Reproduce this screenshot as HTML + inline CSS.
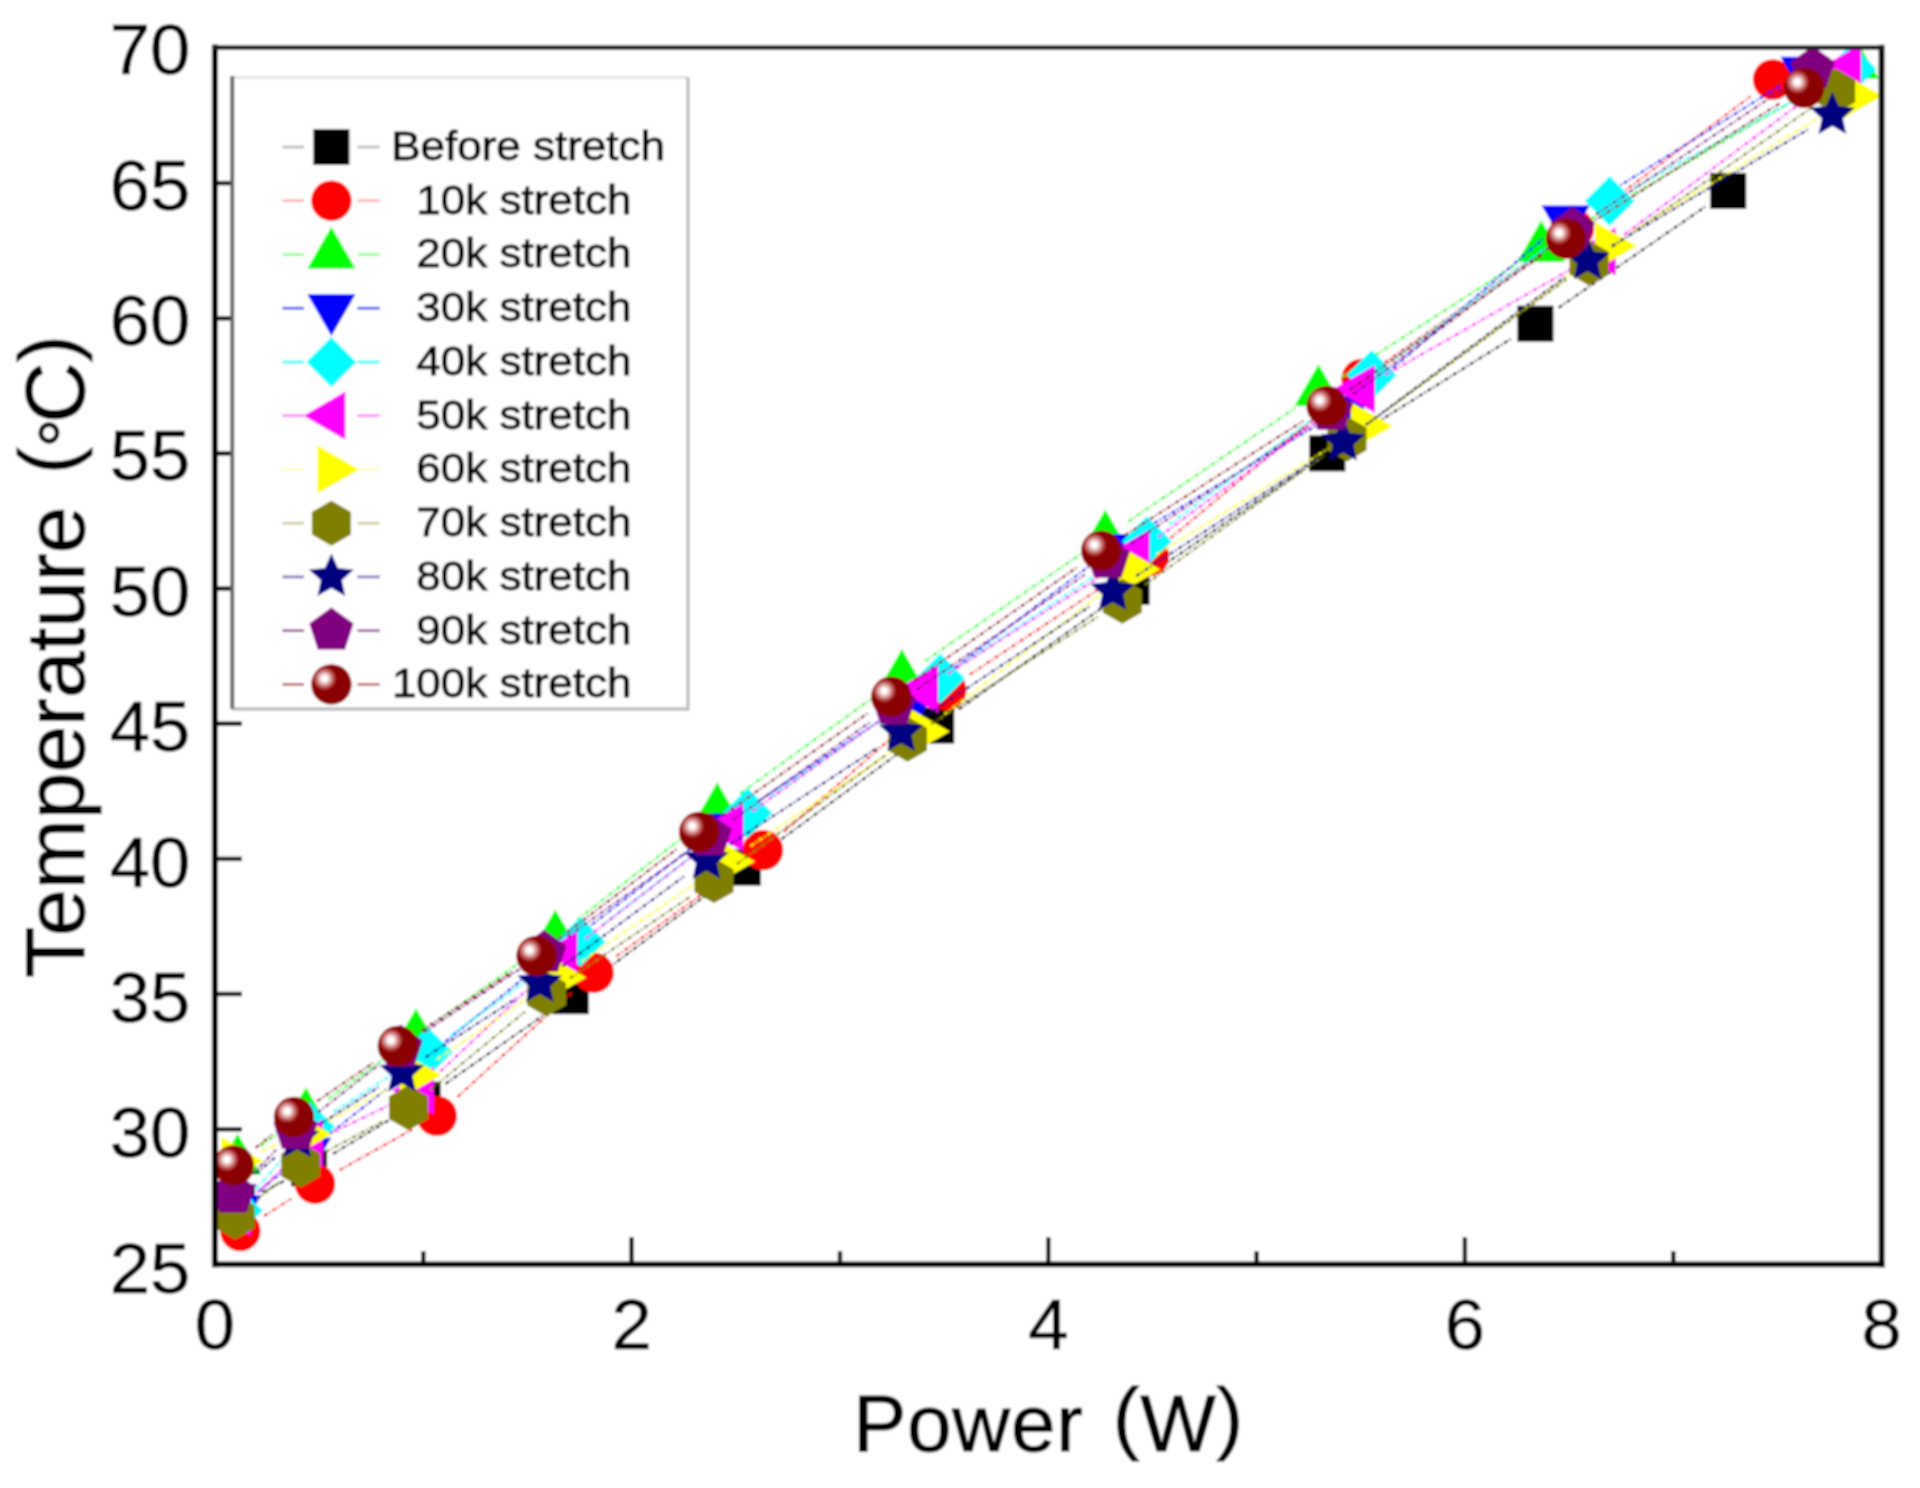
<!DOCTYPE html>
<html lang="en"><head><meta charset="utf-8"><title>Temperature vs Power</title>
<style>html,body{margin:0;padding:0;background:#fff;}svg{display:block;}text{font-family:"Liberation Sans",sans-serif;fill:#000;}</style></head><body>
<svg width="1920" height="1488" viewBox="0 0 1920 1488">
<defs>
<radialGradient id="sph" cx="0.33" cy="0.355" r="0.30" fx="0.33" fy="0.355"><stop offset="0" stop-color="#ffffff"/><stop offset="0.2" stop-color="#ffffff"/><stop offset="0.45" stop-color="#e6b4b4"/><stop offset="0.75" stop-color="#b85050"/><stop offset="1" stop-color="#8b0000"/></radialGradient>
<clipPath id="plot"><rect x="215" y="48" width="1666.6" height="1216.3"/></clipPath>
<filter id="soft" x="0" y="0" width="1920" height="1488" filterUnits="userSpaceOnUse"><feGaussianBlur stdDeviation="0.8"/></filter>
</defs>
<g filter="url(#soft)">
<rect x="0" y="0" width="1920" height="1488" fill="#ffffff"/>
<g stroke="#000" stroke-width="4.4"><line x1="215" y1="1129.2" x2="242" y2="1129.2"/><line x1="215" y1="994" x2="242" y2="994"/><line x1="215" y1="858.9" x2="242" y2="858.9"/><line x1="215" y1="723.7" x2="242" y2="723.7"/><line x1="215" y1="588.6" x2="242" y2="588.6"/><line x1="215" y1="453.4" x2="242" y2="453.4"/><line x1="215" y1="318.3" x2="242" y2="318.3"/><line x1="215" y1="183.1" x2="242" y2="183.1"/><line x1="423.3" y1="1264.3" x2="423.3" y2="1251.3"/><line x1="631.6" y1="1264.3" x2="631.6" y2="1237.3"/><line x1="840" y1="1264.3" x2="840" y2="1251.3"/><line x1="1048.3" y1="1264.3" x2="1048.3" y2="1237.3"/><line x1="1256.6" y1="1264.3" x2="1256.6" y2="1251.3"/><line x1="1464.9" y1="1264.3" x2="1464.9" y2="1237.3"/><line x1="1673.3" y1="1264.3" x2="1673.3" y2="1251.3"/></g>
<g clip-path="url(#plot)">
<g stroke="#000000" stroke-width="2.3" stroke-opacity="0.95" stroke-dasharray="4.5 2 1.5 2" fill="none"><line x1="262" y1="1192.3" x2="284.1" y2="1181"/><line x1="333.1" y1="1153.8" x2="398.6" y2="1114.3"/><line x1="445.5" y1="1083.8" x2="547.8" y2="1012.2"/><line x1="593.1" y1="979.4" x2="720.4" y2="884.4"/><line x1="765.4" y1="851" x2="913.6" y2="742.2"/><line x1="959" y1="709.4" x2="1108.7" y2="603.1"/><line x1="1154.6" y1="571.1" x2="1304.2" y2="469.2"/><line x1="1351.1" y1="438.6" x2="1511.6" y2="338.5"/><line x1="1558.5" y1="307.8" x2="1705.1" y2="206.8"/></g>
<g><rect x="219" y="1187" width="36" height="36" fill="#000000"/><rect x="291.1" y="1150.3" width="36" height="36" fill="#000000"/><rect x="404.6" y="1081.8" width="36" height="36" fill="#000000"/><rect x="552.7" y="978.2" width="36" height="36" fill="#000000"/><rect x="724.8" y="849.6" width="36" height="36" fill="#000000"/><rect x="918.2" y="707.6" width="36" height="36" fill="#000000"/><rect x="1113.5" y="568.9" width="36" height="36" fill="#000000"/><rect x="1309.3" y="435.4" width="36" height="36" fill="#000000"/><rect x="1517.4" y="305.7" width="36" height="36" fill="#000000"/><rect x="1710.2" y="172.9" width="36" height="36" fill="#000000"/></g>
<g stroke="#ff0000" stroke-width="2.3" stroke-opacity="0.95" stroke-dasharray="4.5 2 1.5 2" fill="none"><line x1="264" y1="1216" x2="291.3" y2="1198.7"/><line x1="339.5" y1="1170.1" x2="412.3" y2="1129.5"/><line x1="457.5" y1="1097" x2="572.9" y2="991.6"/><line x1="616.3" y1="956.3" x2="740.3" y2="866.5"/><line x1="784.1" y1="831.7" x2="925.2" y2="708.4"/><line x1="969.7" y1="674.6" x2="1125.6" y2="571.4"/><line x1="1170.5" y1="538.1" x2="1340.1" y2="396.9"/><line x1="1384.5" y1="362.8" x2="1551.1" y2="245.2"/><line x1="1596.4" y1="212.2" x2="1750.6" y2="96.3"/></g>
<g><circle cx="240.3" cy="1231" r="20.2" fill="#ff0000"/><circle cx="315" cy="1183.7" r="20.2" fill="#ff0000"/><circle cx="436.8" cy="1115.9" r="20.2" fill="#ff0000"/><circle cx="593.6" cy="972.7" r="20.2" fill="#ff0000"/><circle cx="763" cy="850.1" r="20.2" fill="#ff0000"/><circle cx="946.3" cy="690" r="20.2" fill="#ff0000"/><circle cx="1149" cy="556" r="20.2" fill="#ff0000"/><circle cx="1361.6" cy="379" r="20.2" fill="#ff0000"/><circle cx="1574" cy="229" r="20.2" fill="#ff0000"/><circle cx="1773" cy="79.5" r="20.2" fill="#ff0000"/></g>
<g stroke="#00ff00" stroke-width="2.3" stroke-opacity="0.95" stroke-dasharray="4.5 2 1.5 2" fill="none"><line x1="260.8" y1="1145.5" x2="282.7" y2="1130.7"/><line x1="328.6" y1="1098.7" x2="393.3" y2="1052.3"/><line x1="438.8" y1="1019.8" x2="532.5" y2="953.4"/><line x1="577.3" y1="919.9" x2="695.3" y2="827.3"/><line x1="740" y1="793.6" x2="879.2" y2="693.1"/><line x1="925" y1="660.9" x2="1082.2" y2="553.1"/><line x1="1128.4" y1="521.5" x2="1295.4" y2="407.8"/><line x1="1342" y1="376.8" x2="1517.7" y2="263.2"/><line x1="1565.4" y1="233.9" x2="1830.6" y2="78.8"/></g>
<g><polygon points="237.6,1133.4 261.7,1175.1 213.5,1175.1" fill="#00ff00"/><polygon points="305.9,1087.2 330,1128.9 281.8,1128.9" fill="#00ff00"/><polygon points="416,1008.2 440.1,1049.9 391.9,1049.9" fill="#00ff00"/><polygon points="555.3,909.4 579.4,951.1 531.2,951.1" fill="#00ff00"/><polygon points="717.3,782.2 741.4,823.9 693.2,823.9" fill="#00ff00"/><polygon points="901.9,648.9 926,690.6 877.8,690.6" fill="#00ff00"/><polygon points="1105.3,509.5 1129.4,551.2 1081.2,551.2" fill="#00ff00"/><polygon points="1318.5,364.2 1342.6,405.9 1294.4,405.9" fill="#00ff00"/><polygon points="1541.2,220.2 1565.3,261.9 1517.1,261.9" fill="#00ff00"/><polygon points="1854.8,36.9 1878.9,78.6 1830.7,78.6" fill="#00ff00"/></g>
<g stroke="#0000ff" stroke-width="2.3" stroke-opacity="0.95" stroke-dasharray="4.5 2 1.5 2" fill="none"><line x1="258.8" y1="1191.4" x2="285.5" y2="1169.5"/><line x1="329.1" y1="1134.3" x2="386" y2="1089.4"/><line x1="429.7" y1="1054.4" x2="524.3" y2="977.6"/><line x1="568.2" y1="942.9" x2="695.8" y2="844.6"/><line x1="741.4" y1="812.1" x2="892.6" y2="712.4"/><line x1="938.3" y1="680.1" x2="1090.7" y2="564.9"/><line x1="1137" y1="533.6" x2="1325" y2="420.4"/><line x1="1370.2" y1="387.7" x2="1544.5" y2="237.6"/><line x1="1589.5" y1="204.5" x2="1780.8" y2="85.4"/></g>
<g><polygon points="237.2,1237 213.1,1195.3 261.3,1195.3" fill="#0000ff"/><polygon points="307.1,1179.5 283,1137.8 331.2,1137.8" fill="#0000ff"/><polygon points="408,1099.8 383.9,1058.1 432.1,1058.1" fill="#0000ff"/><polygon points="546,987.8 521.9,946.1 570.1,946.1" fill="#0000ff"/><polygon points="718,855.3 693.9,813.6 742.1,813.6" fill="#0000ff"/><polygon points="916,724.8 891.9,683.1 940.1,683.1" fill="#0000ff"/><polygon points="1113,575.8 1088.9,534.1 1137.1,534.1" fill="#0000ff"/><polygon points="1349,433.8 1324.9,392.1 1373.1,392.1" fill="#0000ff"/><polygon points="1565.7,247.1 1541.6,205.4 1589.8,205.4" fill="#0000ff"/><polygon points="1804.6,98.4 1780.5,56.7 1828.7,56.7" fill="#0000ff"/></g>
<g stroke="#00ffff" stroke-width="2.3" stroke-opacity="0.95" stroke-dasharray="4.5 2 1.5 2" fill="none"><line x1="256.1" y1="1189.3" x2="291.7" y2="1147.9"/><line x1="333.6" y1="1111.7" x2="404.2" y2="1067"/><line x1="450.5" y1="1035.6" x2="557.8" y2="958.2"/><line x1="602.7" y1="924.7" x2="725.3" y2="830.1"/><line x1="770.5" y1="797" x2="917.2" y2="694.5"/><line x1="963.5" y1="663" x2="1123.6" y2="556.7"/><line x1="1169.4" y1="524.6" x2="1349.1" y2="391.7"/><line x1="1394.2" y1="358.6" x2="1587.1" y2="217.6"/><line x1="1634.3" y1="187.7" x2="1826.9" y2="82.4"/></g>
<g><polygon points="237.8,1185.5 262.8,1210.5 237.8,1235.5 212.8,1210.5" fill="#00ffff"/><polygon points="310,1101.7 335,1126.7 310,1151.7 285,1126.7" fill="#00ffff"/><polygon points="427.8,1027 452.8,1052 427.8,1077 402.8,1052" fill="#00ffff"/><polygon points="580.5,916.8 605.5,941.8 580.5,966.8 555.5,941.8" fill="#00ffff"/><polygon points="747.5,788 772.5,813 747.5,838 722.5,813" fill="#00ffff"/><polygon points="940.2,653.5 965.2,678.5 940.2,703.5 915.2,678.5" fill="#00ffff"/><polygon points="1146.9,516.2 1171.9,541.2 1146.9,566.2 1121.9,541.2" fill="#00ffff"/><polygon points="1371.6,350.1 1396.6,375.1 1371.6,400.1 1346.6,375.1" fill="#00ffff"/><polygon points="1609.7,176.1 1634.7,201.1 1609.7,226.1 1584.7,201.1" fill="#00ffff"/><polygon points="1851.5,44 1876.5,69 1851.5,94 1826.5,69" fill="#00ffff"/></g>
<g stroke="#ff00ff" stroke-width="2.3" stroke-opacity="0.95" stroke-dasharray="4.5 2 1.5 2" fill="none"><line x1="257.3" y1="1192.7" x2="288.7" y2="1162.8"/><line x1="334.3" y1="1131.5" x2="394.7" y2="1102.6"/><line x1="440.4" y1="1071.4" x2="543" y2="974.9"/><line x1="585.6" y1="938.6" x2="707.3" y2="844.7"/><line x1="752.3" y1="811.4" x2="901.4" y2="705.2"/><line x1="947.8" y1="673.9" x2="1112" y2="568.9"/><line x1="1158.2" y1="537.3" x2="1338.4" y2="405.5"/><line x1="1385.3" y1="375.1" x2="1577.5" y2="265.4"/><line x1="1624.2" y1="234.7" x2="1824.9" y2="84.8"/></g>
<g><polygon points="209.2,1212 250.9,1187.9 250.9,1236.1" fill="#ff00ff"/><polygon points="281.2,1143.5 322.9,1119.4 322.9,1167.6" fill="#ff00ff"/><polygon points="392.2,1090.6 433.9,1066.5 433.9,1114.7" fill="#ff00ff"/><polygon points="535.6,955.7 577.3,931.6 577.3,979.8" fill="#ff00ff"/><polygon points="701.7,827.6 743.4,803.5 743.4,851.7" fill="#ff00ff"/><polygon points="896.4,689 938.1,664.9 938.1,713.1" fill="#ff00ff"/><polygon points="1107.8,553.8 1149.5,529.7 1149.5,577.9" fill="#ff00ff"/><polygon points="1333.2,389 1374.9,364.9 1374.9,413.1" fill="#ff00ff"/><polygon points="1574,251.5 1615.7,227.4 1615.7,275.6" fill="#ff00ff"/><polygon points="1819.5,68 1861.2,43.9 1861.2,92.1" fill="#ff00ff"/></g>
<g stroke="#ffff00" stroke-width="2.3" stroke-opacity="0.95" stroke-dasharray="4.5 2 1.5 2" fill="none"><line x1="261.4" y1="1150.9" x2="278" y2="1144.4"/><line x1="328.7" y1="1120.9" x2="389.2" y2="1088.3"/><line x1="437" y1="1059.3" x2="535.3" y2="993.1"/><line x1="581.6" y1="961.6" x2="704.1" y2="877.4"/><line x1="750.5" y1="846.1" x2="898.7" y2="747.1"/><line x1="944.2" y1="714.5" x2="1110.5" y2="586.6"/><line x1="1156.5" y1="554.8" x2="1341" y2="440.9"/><line x1="1387.3" y1="409.6" x2="1586.5" y2="262.6"/><line x1="1632.9" y1="231.4" x2="1830.6" y2="110.5"/></g>
<g><polygon points="263.1,1161.1 221.4,1185.2 221.4,1137" fill="#ffff00"/><polygon points="331.9,1134.2 290.2,1158.3 290.2,1110.1" fill="#ffff00"/><polygon points="441.6,1075 399.9,1099.1 399.9,1050.9" fill="#ffff00"/><polygon points="586.3,977.4 544.6,1001.5 544.6,953.3" fill="#ffff00"/><polygon points="755,861.6 713.3,885.7 713.3,837.5" fill="#ffff00"/><polygon points="949.8,731.6 908.1,755.7 908.1,707.5" fill="#ffff00"/><polygon points="1160.5,569.5 1118.8,593.6 1118.8,545.4" fill="#ffff00"/><polygon points="1392.6,426.2 1350.9,450.3 1350.9,402.1" fill="#ffff00"/><polygon points="1636.8,246 1595.1,270.1 1595.1,221.9" fill="#ffff00"/><polygon points="1882.3,95.9 1840.6,120 1840.6,71.8" fill="#ffff00"/></g>
<g stroke="#808000" stroke-width="2.3" stroke-opacity="0.95" stroke-dasharray="4.5 2 1.5 2" fill="none"><line x1="257.1" y1="1199.6" x2="278.8" y2="1182.4"/><line x1="325.4" y1="1151.9" x2="383.8" y2="1120.9"/><line x1="430.1" y1="1090" x2="524.9" y2="1011.8"/><line x1="569.7" y1="978.3" x2="690.8" y2="896.3"/><line x1="736.6" y1="864.1" x2="884.9" y2="755.7"/><line x1="931.1" y1="724.1" x2="1098.7" y2="616.3"/><line x1="1145" y1="584.8" x2="1324.3" y2="455.4"/><line x1="1369.6" y1="422.5" x2="1566.4" y2="279.5"/><line x1="1612" y1="247" x2="1812.7" y2="107"/></g>
<g><polygon points="235.2,1194.5 254.7,1205.8 254.7,1228.2 235.2,1239.5 215.7,1228.2 215.7,1205.8" fill="#808000"/><polygon points="300.7,1142.5 320.2,1153.8 320.2,1176.2 300.7,1187.5 281.2,1176.2 281.2,1153.8" fill="#808000"/><polygon points="408.5,1085.3 428,1096.5 428,1119 408.5,1130.3 389,1119 389,1096.5" fill="#808000"/><polygon points="546.5,971.5 566,982.8 566,1005.2 546.5,1016.5 527,1005.2 527,982.8" fill="#808000"/><polygon points="714,858.1 733.5,869.4 733.5,891.9 714,903.1 694.5,891.9 694.5,869.4" fill="#808000"/><polygon points="907.5,716.7 927,728 927,750.5 907.5,761.7 888,750.5 888,728" fill="#808000"/><polygon points="1122.3,578.7 1141.8,590 1141.8,612.5 1122.3,623.7 1102.8,612.5 1102.8,590" fill="#808000"/><polygon points="1347,416.5 1366.5,427.8 1366.5,450.2 1347,461.5 1327.5,450.2 1327.5,427.8" fill="#808000"/><polygon points="1589,240.5 1608.5,251.8 1608.5,274.2 1589,285.5 1569.5,274.2 1569.5,251.8" fill="#808000"/><polygon points="1835.7,68.5 1855.2,79.8 1855.2,102.2 1835.7,113.5 1816.2,102.2 1816.2,79.8" fill="#808000"/></g>
<g stroke="#000080" stroke-width="2.3" stroke-opacity="0.95" stroke-dasharray="4.5 2 1.5 2" fill="none"><line x1="256.2" y1="1173.4" x2="276" y2="1156.6"/><line x1="321" y1="1123.5" x2="378.3" y2="1087.4"/><line x1="425.5" y1="1057.2" x2="516.3" y2="998.3"/><line x1="562.3" y1="966.4" x2="684" y2="876.4"/><line x1="729.9" y1="844.5" x2="877.8" y2="747.5"/><line x1="924.5" y1="716.7" x2="1089.4" y2="606.7"/><line x1="1136.2" y1="576" x2="1319.6" y2="456.9"/><line x1="1365.6" y1="425" x2="1565" y2="277"/><line x1="1611.6" y1="246" x2="1808.3" y2="129.3"/></g>
<g><polygon points="234.9,1168.2 241.4,1182.7 257.2,1184.4 245.4,1195 248.7,1210.5 234.9,1202.6 221.1,1210.5 224.4,1195 212.6,1184.4 228.4,1182.7" fill="#000080"/><polygon points="297.3,1115 303.8,1129.5 319.6,1131.2 307.8,1141.8 311.1,1157.3 297.3,1149.4 283.5,1157.3 286.8,1141.8 275,1131.2 290.8,1129.5" fill="#000080"/><polygon points="402,1049.1 408.5,1063.6 424.3,1065.3 412.5,1075.9 415.8,1091.4 402,1083.5 388.2,1091.4 391.5,1075.9 379.7,1065.3 395.5,1063.6" fill="#000080"/><polygon points="539.8,959.6 546.3,974.1 562.1,975.8 550.3,986.4 553.6,1001.9 539.8,994 526,1001.9 529.3,986.4 517.5,975.8 533.3,974.1" fill="#000080"/><polygon points="706.5,836.4 713,850.9 728.8,852.6 717,863.2 720.3,878.7 706.5,870.8 692.7,878.7 696,863.2 684.2,852.6 700,850.9" fill="#000080"/><polygon points="901.2,708.8 907.7,723.3 923.5,725 911.7,735.6 915,751.1 901.2,743.2 887.4,751.1 890.7,735.6 878.9,725 894.7,723.3" fill="#000080"/><polygon points="1112.7,567.8 1119.2,582.3 1135,584 1123.2,594.6 1126.5,610.1 1112.7,602.2 1098.9,610.1 1102.2,594.6 1090.4,584 1106.2,582.3" fill="#000080"/><polygon points="1343.1,418.3 1349.6,432.8 1365.4,434.5 1353.6,445.1 1356.9,460.6 1343.1,452.7 1329.3,460.6 1332.6,445.1 1320.8,434.5 1336.6,432.8" fill="#000080"/><polygon points="1587.5,236.9 1594,251.4 1609.8,253.1 1598,263.7 1601.3,279.2 1587.5,271.3 1573.7,279.2 1577,263.7 1565.2,253.1 1581,251.4" fill="#000080"/><polygon points="1832.4,91.6 1838.9,106.1 1854.7,107.8 1842.9,118.4 1846.2,133.9 1832.4,126 1818.6,133.9 1821.9,118.4 1810.1,107.8 1825.9,106.1" fill="#000080"/></g>
<g stroke="#800080" stroke-width="2.3" stroke-opacity="0.95" stroke-dasharray="4.5 2 1.5 2" fill="none"><line x1="252.7" y1="1173.9" x2="276" y2="1150"/><line x1="317.6" y1="1112.7" x2="378.6" y2="1065"/><line x1="424" y1="1032.3" x2="520.9" y2="968.3"/><line x1="567.2" y1="936.8" x2="686.8" y2="852.4"/><line x1="732.5" y1="820.1" x2="871" y2="721.4"/><line x1="916.9" y1="689.4" x2="1084.7" y2="574.8"/><line x1="1131.1" y1="543.5" x2="1307.7" y2="426.5"/><line x1="1353.4" y1="394.2" x2="1550.3" y2="246.8"/><line x1="1596" y1="214.4" x2="1789.4" y2="84.9"/></g>
<g><polygon points="233.1,1170.7 255.2,1186.7 246.7,1212.7 219.5,1212.7 211,1186.7" fill="#800080"/><polygon points="295.6,1106.8 317.7,1122.8 309.2,1148.8 282,1148.8 273.5,1122.8" fill="#800080"/><polygon points="400.6,1024.5 422.7,1040.5 414.2,1066.5 387,1066.5 378.5,1040.5" fill="#800080"/><polygon points="544.3,929.7 566.4,945.7 557.9,971.7 530.7,971.7 522.2,945.7" fill="#800080"/><polygon points="709.7,813.1 731.8,829.1 723.3,855.1 696.1,855.1 687.6,829.1" fill="#800080"/><polygon points="893.8,682 915.9,698 907.4,724 880.2,724 871.7,698" fill="#800080"/><polygon points="1107.8,535.8 1129.9,551.8 1121.4,577.8 1094.2,577.8 1085.7,551.8" fill="#800080"/><polygon points="1331,387.8 1353.1,403.8 1344.6,429.8 1317.4,429.8 1308.9,403.8" fill="#800080"/><polygon points="1572.7,206.8 1594.8,222.8 1586.3,248.8 1559.1,248.8 1550.6,222.8" fill="#800080"/><polygon points="1812.7,46.1 1834.8,62.1 1826.3,88.1 1799.1,88.1 1790.6,62.1" fill="#800080"/></g>
<g stroke="#8b0000" stroke-width="2.3" stroke-opacity="0.95" stroke-dasharray="4.5 2 1.5 2" fill="none"><line x1="255.6" y1="1147.9" x2="272.2" y2="1134.5"/><line x1="317.1" y1="1101.2" x2="374.7" y2="1061.8"/><line x1="421.3" y1="1030.7" x2="513" y2="971.2"/><line x1="558.8" y1="938.9" x2="676.8" y2="849"/><line x1="722" y1="815.9" x2="868.3" y2="712.8"/><line x1="914.2" y1="680.7" x2="1078.2" y2="566.6"/><line x1="1124.8" y1="535.5" x2="1303" y2="421.1"/><line x1="1349.6" y1="390" x2="1543" y2="254.7"/><line x1="1589.7" y1="223.7" x2="1780.5" y2="102.8"/></g>
<g><circle cx="233.8" cy="1165.4" r="20.2" fill="url(#sph)"/><circle cx="294" cy="1117" r="20.2" fill="url(#sph)"/><circle cx="397.8" cy="1046" r="20.2" fill="url(#sph)"/><circle cx="536.5" cy="955.9" r="20.2" fill="url(#sph)"/><circle cx="699.1" cy="832" r="20.2" fill="url(#sph)"/><circle cx="891.2" cy="696.7" r="20.2" fill="url(#sph)"/><circle cx="1101.2" cy="550.6" r="20.2" fill="url(#sph)"/><circle cx="1326.6" cy="406" r="20.2" fill="url(#sph)"/><circle cx="1566" cy="238.7" r="20.2" fill="url(#sph)"/><circle cx="1804.2" cy="87.8" r="20.2" fill="url(#sph)"/></g>
</g>
<g stroke="#000" stroke-linecap="square"><line x1="214.9" y1="47.6" x2="214.9" y2="1264.3" stroke-width="6"/><line x1="214.9" y1="1264.3" x2="1881.6" y2="1264.3" stroke-width="5.7"/><line x1="1881.6" y1="47.6" x2="1881.6" y2="1264.3" stroke-width="5.9"/><line x1="214.9" y1="47.6" x2="1881.6" y2="47.6" stroke-width="4.6" stroke="#1a1a1a"/></g>
<text transform="translate(190.3 1292.8) scale(1.035 1)" font-size="70" text-anchor="end" stroke="#000" stroke-width="0.6">25</text>
<text transform="translate(190.3 1157.4) scale(1.035 1)" font-size="70" text-anchor="end" stroke="#000" stroke-width="0.6">30</text>
<text transform="translate(190.3 1022) scale(1.035 1)" font-size="70" text-anchor="end" stroke="#000" stroke-width="0.6">35</text>
<text transform="translate(190.3 886.6) scale(1.035 1)" font-size="70" text-anchor="end" stroke="#000" stroke-width="0.6">40</text>
<text transform="translate(190.3 751.2) scale(1.035 1)" font-size="70" text-anchor="end" stroke="#000" stroke-width="0.6">45</text>
<text transform="translate(190.3 615.8) scale(1.035 1)" font-size="70" text-anchor="end" stroke="#000" stroke-width="0.6">50</text>
<text transform="translate(190.3 480.4) scale(1.035 1)" font-size="70" text-anchor="end" stroke="#000" stroke-width="0.6">55</text>
<text transform="translate(190.3 345) scale(1.035 1)" font-size="70" text-anchor="end" stroke="#000" stroke-width="0.6">60</text>
<text transform="translate(190.3 209.6) scale(1.035 1)" font-size="70" text-anchor="end" stroke="#000" stroke-width="0.6">65</text>
<text transform="translate(190.3 74.2) scale(1.035 1)" font-size="70" text-anchor="end" stroke="#000" stroke-width="0.6">70</text>
<text transform="translate(215 1349) scale(1.035 1)" font-size="70" text-anchor="middle" stroke="#000" stroke-width="0.6">0</text>
<text transform="translate(631.6 1349) scale(1.035 1)" font-size="70" text-anchor="middle" stroke="#000" stroke-width="0.6">2</text>
<text transform="translate(1048.3 1349) scale(1.035 1)" font-size="70" text-anchor="middle" stroke="#000" stroke-width="0.6">4</text>
<text transform="translate(1464.9 1349) scale(1.035 1)" font-size="70" text-anchor="middle" stroke="#000" stroke-width="0.6">6</text>
<text transform="translate(1881.6 1349) scale(1.035 1)" font-size="70" text-anchor="middle" stroke="#000" stroke-width="0.6">8</text>
<text x="1048.4" y="1451" font-size="80" text-anchor="middle" letter-spacing="0.8" word-spacing="6" stroke="#000" stroke-width="1">Power <tspan dy="-7">(</tspan><tspan dy="7">W</tspan><tspan dy="-7">)</tspan></text>
<text transform="translate(83.5 0) rotate(-90)" x="-978" y="0" font-size="84" stroke="#000" stroke-width="1">Temperature</text>
<text transform="translate(83.5 0) rotate(-90)" y="0" font-size="84" stroke="#000" stroke-width="1"><tspan x="-474" dy="-8.8" font-size="80">(</tspan><tspan x="-447.5" dy="14.3" font-size="73">°</tspan><tspan x="-423" dy="-5.5">C</tspan><tspan x="-362" dy="-8.8" font-size="80">)</tspan></text>
<rect x="232" y="77.5" width="456" height="631.5" fill="#fff"/>
<line x1="232" y1="77.5" x2="688" y2="77.5" stroke="#d9d9d9" stroke-width="2"/>
<line x1="688" y1="77.5" x2="688" y2="710.7" stroke="#bdbdbd" stroke-width="3.4"/>
<line x1="232" y1="709" x2="688" y2="709" stroke="#bdbdbd" stroke-width="3.4"/>
<line x1="232.2" y1="76" x2="232.2" y2="709" stroke="#666" stroke-width="4"/>
<g stroke="#000000" stroke-width="2.6" stroke-opacity="0.28"><line x1="282.5" y1="147" x2="304" y2="147"/><line x1="357.5" y1="147" x2="379.7" y2="147"/></g>
<rect x="313.4" y="129" width="36" height="36" fill="#000000"/>
<text transform="translate(665 159.8) scale(1.10 1)" font-size="40" text-anchor="end" stroke="#000" stroke-width="0.9">Before stretch</text>
<g stroke="#ff0000" stroke-width="2.6" stroke-opacity="0.3"><line x1="282.5" y1="200.7" x2="304" y2="200.7"/><line x1="357.5" y1="200.7" x2="379.7" y2="200.7"/></g>
<circle cx="331.4" cy="200.7" r="20.2" fill="#ff0000"/>
<text transform="translate(631.5 213.5) scale(1.10 1)" font-size="40" text-anchor="end" stroke="#000" stroke-width="0.9">10k stretch</text>
<g stroke="#00ff00" stroke-width="2.6" stroke-opacity="0.45"><line x1="282.5" y1="254.5" x2="304" y2="254.5"/><line x1="357.5" y1="254.5" x2="379.7" y2="254.5"/></g>
<polygon points="331.4,226.7 355.5,268.4 307.3,268.4" fill="#00ff00"/>
<text transform="translate(631.5 267.3) scale(1.10 1)" font-size="40" text-anchor="end" stroke="#000" stroke-width="0.9">20k stretch</text>
<g stroke="#0000ff" stroke-width="2.6" stroke-opacity="0.75"><line x1="282.5" y1="308.2" x2="304" y2="308.2"/><line x1="357.5" y1="308.2" x2="379.7" y2="308.2"/></g>
<polygon points="331.4,336 307.3,294.3 355.5,294.3" fill="#0000ff"/>
<text transform="translate(631.5 321) scale(1.10 1)" font-size="40" text-anchor="end" stroke="#000" stroke-width="0.9">30k stretch</text>
<g stroke="#00ffff" stroke-width="2.6" stroke-opacity="1.0"><line x1="282.5" y1="362" x2="304" y2="362"/><line x1="357.5" y1="362" x2="379.7" y2="362"/></g>
<polygon points="331.4,337 356.4,362 331.4,387 306.4,362" fill="#00ffff"/>
<text transform="translate(631.5 374.8) scale(1.10 1)" font-size="40" text-anchor="end" stroke="#000" stroke-width="0.9">40k stretch</text>
<g stroke="#ff00ff" stroke-width="2.6" stroke-opacity="0.5"><line x1="282.5" y1="415.7" x2="304" y2="415.7"/><line x1="357.5" y1="415.7" x2="379.7" y2="415.7"/></g>
<polygon points="303.6,415.7 345.3,391.6 345.3,439.8" fill="#ff00ff"/>
<text transform="translate(631.5 428.5) scale(1.10 1)" font-size="40" text-anchor="end" stroke="#000" stroke-width="0.9">50k stretch</text>
<g stroke="#ffff00" stroke-width="2.6" stroke-opacity="0.22"><line x1="282.5" y1="469.4" x2="304" y2="469.4"/><line x1="357.5" y1="469.4" x2="379.7" y2="469.4"/></g>
<polygon points="359.2,469.4 317.5,493.5 317.5,445.4" fill="#ffff00"/>
<text transform="translate(631.5 482.2) scale(1.10 1)" font-size="40" text-anchor="end" stroke="#000" stroke-width="0.9">60k stretch</text>
<g stroke="#808000" stroke-width="2.6" stroke-opacity="0.4"><line x1="282.5" y1="523.2" x2="304" y2="523.2"/><line x1="357.5" y1="523.2" x2="379.7" y2="523.2"/></g>
<polygon points="331.4,500.7 350.9,511.9 350.9,534.4 331.4,545.7 311.9,534.4 311.9,511.9" fill="#808000"/>
<text transform="translate(631.5 536) scale(1.10 1)" font-size="40" text-anchor="end" stroke="#000" stroke-width="0.9">70k stretch</text>
<g stroke="#000080" stroke-width="2.6" stroke-opacity="0.55"><line x1="282.5" y1="576.9" x2="304" y2="576.9"/><line x1="357.5" y1="576.9" x2="379.7" y2="576.9"/></g>
<polygon points="331.4,553.5 337.9,568 353.7,569.7 341.9,580.3 345.2,595.9 331.4,587.9 317.6,595.9 320.9,580.3 309.1,569.7 324.9,568" fill="#000080"/>
<text transform="translate(631.5 589.7) scale(1.10 1)" font-size="40" text-anchor="end" stroke="#000" stroke-width="0.9">80k stretch</text>
<g stroke="#800080" stroke-width="2.6" stroke-opacity="0.75"><line x1="282.5" y1="630.7" x2="304" y2="630.7"/><line x1="357.5" y1="630.7" x2="379.7" y2="630.7"/></g>
<polygon points="331.4,607.5 353.5,623.5 345,649.4 317.8,649.4 309.3,623.5" fill="#800080"/>
<text transform="translate(631.5 643.5) scale(1.10 1)" font-size="40" text-anchor="end" stroke="#000" stroke-width="0.9">90k stretch</text>
<g stroke="#8b0000" stroke-width="2.6" stroke-opacity="0.6"><line x1="282.5" y1="684.4" x2="304" y2="684.4"/><line x1="357.5" y1="684.4" x2="379.7" y2="684.4"/></g>
<circle cx="331.4" cy="684.4" r="20.2" fill="url(#sph)"/>
<text transform="translate(631.5 697.2) scale(1.10 1)" font-size="40" text-anchor="end" stroke="#000" stroke-width="0.9">100k stretch</text>
</g>
</svg></body></html>
